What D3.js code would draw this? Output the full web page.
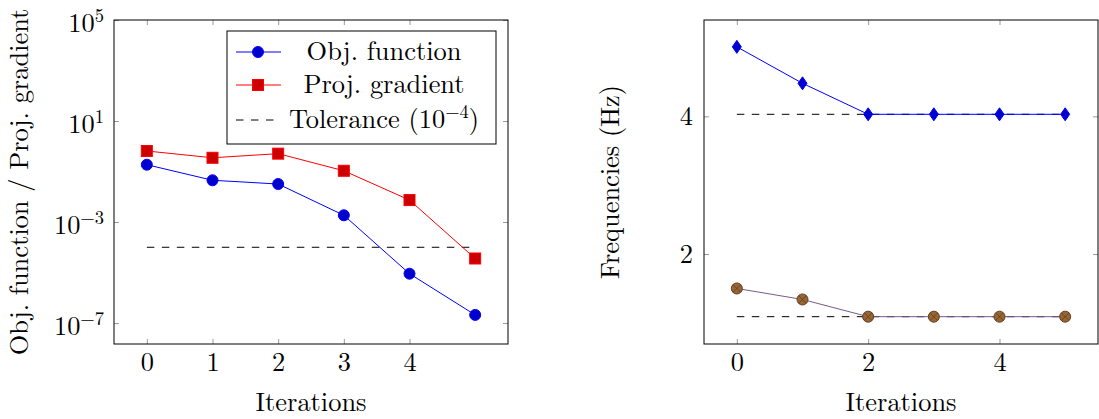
<!DOCTYPE html>
<html>
<head>
<meta charset="utf-8">
<script src="https://cdn.jsdelivr.net/npm/d3@7"></script>
<style>
  body { margin: 0; background: #fff; }
  .tick line { stroke: #9a9a9a; }
  .domain { display: none; }
</style>
</head>
<body>
<svg id="graf" width="1099" height="419"></svg>
<script>
// datos
iteraciones = [0, 1, 2, 3, 4, 5]
objFunction = [0.186, 0.045, 0.032, 1.85e-3, 9e-6, 2.1e-7]
projGradient = [0.65, 0.35, 0.51, 0.107, 7.4e-3, 3.6e-5]
tolerancia = 1e-4
freqAlta = [5.01, 4.48, 4.03, 4.03, 4.03, 4.03]
freqBaja = [1.50, 1.34, 1.09, 1.09, 1.09, 1.09]
freqObjetivo = [4.03, 1.09]
ticksXIzq = [0, 1, 2, 3, 4]
ticksYIzq = [5, 1, -3, -7]   // exponentes
ticksXDer = [0, 2, 4]
ticksYDer = [2, 4]
leyenda = ['Obj. function', 'Proj. gradient', 'Tolerance']

svg = d3.select('#graf')
fs = 26.4
fsSup = 18.5

// ---------- panel izquierdo ----------
izq = { x0: 114, x1: 508, y0: 20, y1: 344 }
x1 = d3.scaleLinear().domain([-0.5, 5.5]).range([izq.x0, izq.x1])
y1 = d3.scaleLog().domain([Math.pow(10, -7.83), 1e5]).range([izq.y1, izq.y0])

gI = svg.append('g')

function ejes(g, x, y, p, tx, ty, fmtY, padY) {
  g.append('g').attr('transform', `translate(0, ${p.y1})`)
    .call(d3.axisBottom(x).tickValues(tx).tickSizeInner(-5).tickSizeOuter(0).tickPadding(8).tickFormat(d3.format('d')))
  g.append('g').attr('transform', `translate(0, ${p.y0})`)
    .call(d3.axisTop(x).tickValues(tx).tickSizeInner(-5).tickSizeOuter(0).tickFormat(''))
  yl = g.append('g').attr('transform', `translate(${p.x0}, 0)`)
    .call(d3.axisLeft(y).tickValues(ty).tickSizeInner(-5).tickSizeOuter(0).tickPadding(padY).tickFormat(fmtY))
  g.append('g').attr('transform', `translate(${p.x1}, 0)`)
    .call(d3.axisRight(y).tickValues(ty).tickSizeInner(-5).tickSizeOuter(0).tickFormat(''))
  g.selectAll('.tick text').attr('font-size', fs)
  return yl
}

ylI = ejes(gI, x1, y1, izq, ticksXIzq, ticksYIzq.map(e => Math.pow(10, e)), () => '', 10)
ylI.selectAll('.tick text').attr('dy', '0.42em').each(function(d) {
  t = d3.select(this)
  e = Math.round(Math.log10(d))
  t.text('10')
  t.append('tspan').attr('dy', -10).attr('font-size', fsSup)
    .text(e < 0 ? '\u2212' + (-e) : e)
})

// tolerancia
gI.append('line')
  .attr('x1', x1(0)).attr('x2', x1(5))
  .attr('y1', y1(tolerancia)).attr('y2', y1(tolerancia))
  .attr('stroke', '#000').attr('stroke-dasharray', '7.5,7.5')

linea = d3.line()
gI.append('path')
  .attr('d', linea(iteraciones.map((d, i) => [x1(d), y1(objFunction[i])])))
  .attr('fill', 'none').attr('stroke', '#0000ff')
gI.append('path')
  .attr('d', linea(iteraciones.map((d, i) => [x1(d), y1(projGradient[i])])))
  .attr('fill', 'none').attr('stroke', '#ff0000')

gI.selectAll('circle.obj').data(objFunction).enter().append('circle')
  .attr('cx', (d, i) => x1(iteraciones[i])).attr('cy', d => y1(d)).attr('r', 5.5)
  .attr('fill', '#0000cc').attr('stroke', '#0000ff')
gI.selectAll('rect.proj').data(projGradient).enter().append('rect')
  .attr('x', (d, i) => x1(iteraciones[i]) - 5.5).attr('y', d => y1(d) - 5.5)
  .attr('width', 11).attr('height', 11)
  .attr('fill', '#cc0000').attr('stroke', '#ff0000')

gI.append('rect').attr('x', izq.x0).attr('y', izq.y0)
  .attr('width', izq.x1 - izq.x0).attr('height', izq.y1 - izq.y0)
  .attr('fill', 'none').attr('stroke', '#000')

// leyenda
lg = gI.append('g')
lg.append('rect').attr('x', 227).attr('y', 31).attr('width', 269).attr('height', 113)
  .attr('fill', '#fff').attr('stroke', '#000')
filas = [52, 85, 120]
lg.append('line').attr('x1', 236).attr('x2', 281).attr('y1', filas[0]).attr('y2', filas[0]).attr('stroke', '#0000ff')
lg.append('circle').attr('cx', 258).attr('cy', filas[0]).attr('r', 5.5).attr('fill', '#0000cc').attr('stroke', '#0000ff')
lg.append('line').attr('x1', 236).attr('x2', 281).attr('y1', filas[1]).attr('y2', filas[1]).attr('stroke', '#ff0000')
lg.append('rect').attr('x', 252.5).attr('y', filas[1] - 5.5).attr('width', 11).attr('height', 11).attr('fill', '#cc0000').attr('stroke', '#ff0000')
lg.append('line').attr('x1', 236).attr('x2', 281).attr('y1', filas[2]).attr('y2', filas[2]).attr('stroke', '#000').attr('stroke-dasharray', '7.5,7.5')
filas.forEach((f, i) => {
  t = lg.append('text').attr('x', 384).attr('y', f + 7.8).attr('text-anchor', 'middle').attr('font-size', fs)
    .text(leyenda[i])
  if (i == 2) {
    t.text(leyenda[i] + ' (10')
    t.append('tspan').attr('dy', -10).attr('font-size', fsSup).text('\u22124')
    t.append('tspan').attr('dy', 10).text(')')
  }
})

svg.append('text').attr('x', (izq.x0 + izq.x1) / 2).attr('y', 411).attr('text-anchor', 'middle')
  .attr('font-size', fs).text('Iterations')
svg.append('text').attr('transform', `translate(28, ${(izq.y0 + izq.y1) / 2}) rotate(-90)`)
  .attr('text-anchor', 'middle').attr('font-size', fs).text('Obj. function / Proj. gradient')

// ---------- panel derecho ----------
der = { x0: 704, x1: 1098, y0: 20, y1: 344 }
x2 = d3.scaleLinear().domain([-0.5, 5.5]).range([der.x0, der.x1])
y2 = d3.scaleLinear().domain([0.693, 5.40]).range([der.y1, der.y0])

gD = svg.append('g')
ejes(gD, x2, y2, der, ticksXDer, ticksYDer, d3.format('d'), 11)

freqObjetivo.forEach(f => {
  gD.append('line')
    .attr('x1', x2(0)).attr('x2', x2(5))
    .attr('y1', y2(f)).attr('y2', y2(f))
    .attr('stroke', '#000').attr('stroke-dasharray', '7.5,7.5')
})

gD.append('path')
  .attr('d', linea(iteraciones.map((d, i) => [x2(d), y2(freqAlta[i])])))
  .attr('fill', 'none').attr('stroke', '#0000ff')
gD.append('path')
  .attr('d', linea(iteraciones.map((d, i) => [x2(d), y2(freqBaja[i])])))
  .attr('fill', 'none').attr('stroke', '#7a5a8c')

gD.selectAll('path.diam').data(freqAlta).enter().append('path')
  .attr('transform', (d, i) => `translate(${x2(iteraciones[i])}, ${y2(d)})`)
  .attr('d', 'M0,-6.5L4.5,0L0,6.5L-4.5,0Z')
  .attr('fill', '#0000cc').attr('stroke', '#0000ff')

otimes = gD.selectAll('g.otimes').data(freqBaja).enter().append('g')
  .attr('transform', (d, i) => `translate(${x2(iteraciones[i])}, ${y2(d)})`)
otimes.append('circle').attr('r', 5.5).attr('fill', '#996633').attr('stroke', '#5c3d1f')
otimes.append('path').attr('d', 'M-3.9,-3.9L3.9,3.9M-3.9,3.9L3.9,-3.9').attr('stroke', '#5c3d1f').attr('stroke-width', 0.8)

gD.append('rect').attr('x', der.x0).attr('y', der.y0)
  .attr('width', der.x1 - der.x0).attr('height', der.y1 - der.y0)
  .attr('fill', 'none').attr('stroke', '#000')

svg.append('text').attr('x', (der.x0 + der.x1) / 2).attr('y', 411).attr('text-anchor', 'middle')
  .attr('font-size', fs).text('Iterations')
svg.append('text').attr('transform', `translate(619, ${(der.y0 + der.y1) / 2}) rotate(-90)`)
  .attr('text-anchor', 'middle').attr('font-size', fs).text('Frequencies (Hz)')

// tipografía tipo LaTeX
svg.selectAll('text').style('font-family', '"Latin Modern Roman", "Liberation Serif", serif').style('fill', '#000')
</script>
</body>
</html>
